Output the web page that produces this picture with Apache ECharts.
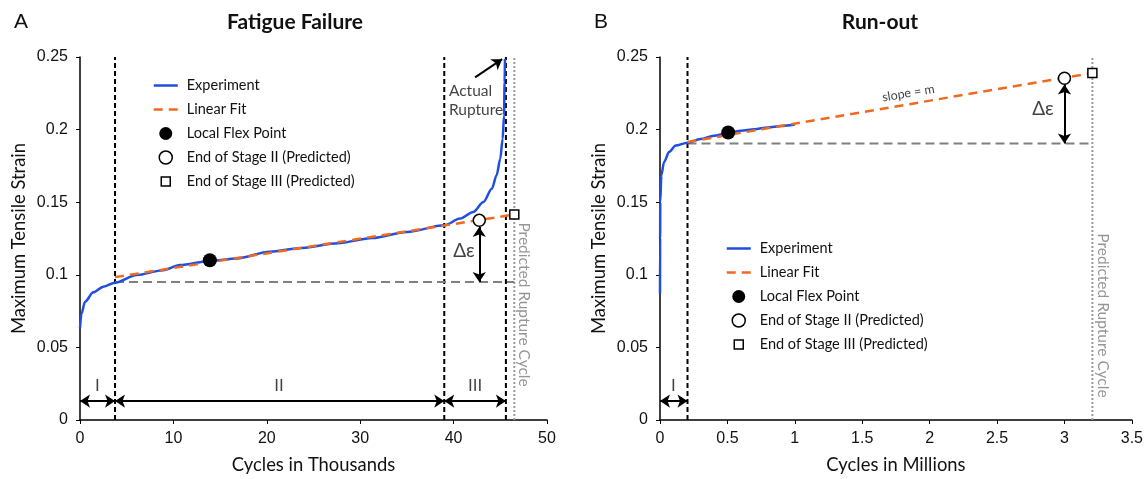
<!DOCTYPE html>
<html><head><meta charset="utf-8">
<script src="https://cdn.jsdelivr.net/npm/echarts@6/dist/echarts.min.js"></script>
<style>html,body{margin:0;padding:0;background:#fff}#c{width:1146px;height:479px}</style>
</head><body><div id="c"></div>
<script>
// ---------- Panel A : Fatigue Failure (x in thousands of cycles) ----------
const aExpX = [0, 0.15, 0.54, 1.43, 2.5, 3.75, 6.07, 8.9, 10.7, 13.9, 16.8, 20.3, 23.8, 27.6, 31.3, 35, 39, 40.7, 42.1, 43.2, 44.1, 44.6, 45.0, 45.25, 45.4, 45.46, 45.5];
const aExpY = [0.063, 0.073, 0.0815, 0.0879, 0.0918, 0.0946, 0.0998, 0.1032, 0.1067, 0.1095, 0.1113, 0.1159, 0.1185, 0.1218, 0.1253, 0.1295, 0.1341, 0.1387, 0.1433, 0.1502, 0.1593, 0.1685, 0.18, 0.1937, 0.2097, 0.2326, 0.2486];
const aFitX = [3.75, 46.5];
const aFitY = [0.0984, 0.1415];
const aFlex = [13.9, 0.110];
const aEndII = [42.75, 0.1375];
const aEndIII = [46.5, 0.1415];
const aStageBounds = [3.75, 39.0, 45.6];
const aRupture = 46.5;
const aBaseline = 0.095;
const aStageNames = ['I', 'II', 'III'];
const aStageLabelX = [1.85, 21.3, 42.3];
const aDeltaTop = 0.133;

// ---------- Panel B : Run-out (x in millions of cycles) ----------
const bExpX = [0, 0.001, 0.002, 0.01, 0.03, 0.067, 0.116, 0.204, 0.3, 0.4, 0.5, 0.6, 0.7, 0.8, 0.9, 1.0];
const bExpY = [0.087, 0.125, 0.15, 0.1685, 0.1777, 0.1845, 0.189, 0.191, 0.1935, 0.1958, 0.1975, 0.1992, 0.2003, 0.2015, 0.2025, 0.2035];
const bFitX = [0.204, 3.207];
const bFitY = [0.1915, 0.239];
const bFlex = [0.506, 0.198];
const bEndII = [3.0, 0.2354];
const bEndIII = [3.207, 0.239];
const bStageBounds = [0.204];
const bRupture = 3.207;
const bBaseline = 0.1905;
const bStageNames = ['I'];
const bStageLabelX = [0.1];
const bDeltaTop = 0.231;

// axes
const yMax = 0.25, yStep = 0.05;
const aXMax = 50, aXStep = 10;
const bXMax = 3.5, bXStep = 0.5;
const stageArrowY = 0.013, stageLabelY = 0.0235;

const C_BLUE = '#1f4ee0', C_ORANGE = '#ee6a1f', C_GRAY = '#808080', C_DOT = '#9a9a9a';
const SANS = 'Lato, "Open Sans", sans-serif';
const ARIAL = '"Liberation Sans", Arial, sans-serif';

const zip = (xs, ys) => xs.map((x, i) => [x, ys[i]]);

function axisX(gi, max, step, name) {
  return {
    type: 'value', gridIndex: gi, min: 0, max: max, interval: step,
    name: name, nameLocation: 'middle', nameGap: 36,
    nameTextStyle: { fontFamily: SANS, fontSize: 18.4, color: '#111' },
    axisLine: { onZero: false, lineStyle: { color: '#000', width: 1.5 } },
    axisTick: { show: true, length: 4, lineStyle: { color: '#000', width: 1 } },
    axisLabel: { fontFamily: ARIAL, fontSize: 16, color: '#111', margin: 11 },
    splitLine: { show: false }
  };
}
function axisY(gi) {
  return {
    type: 'value', gridIndex: gi, min: 0, max: yMax, interval: yStep,
    name: 'Maximum Tensile Strain', nameLocation: 'middle', nameGap: 52,
    nameTextStyle: { fontFamily: SANS, fontSize: 18.4, color: '#111' },
    axisLine: { show: true, lineStyle: { color: '#000', width: 1.5 } },
    axisTick: { show: true, length: 4, lineStyle: { color: '#000', width: 1 } },
    axisLabel: { fontFamily: ARIAL, fontSize: 16, color: '#111', margin: 12 },
    splitLine: { show: false }
  };
}

function panelSeries(gi, d) {
  const s = [];
  const base = { xAxisIndex: gi, yAxisIndex: gi, silent: true, animation: false };
  d.bounds.forEach(x => s.push(Object.assign({}, base, {
    type: 'line', symbol: 'none', data: [[x, 0], [x, yMax]],
    lineStyle: { color: '#000', width: 2, type: [5, 3] }
  })));
  s.push(Object.assign({}, base, {
    type: 'line', symbol: 'none', data: [[d.rupture, 0], [d.rupture, yMax]],
    lineStyle: { color: C_DOT, width: 2, type: [2, 2] },
    markLine: {
      silent: true, animation: false, symbol: ['arrow', 'arrow'], symbolSize: 10,
      label: { show: false },
      lineStyle: { color: '#000', width: 2, type: 'solid' },
      data: d.arrows
    }
  }));
  s.push(Object.assign({}, base, {
    type: 'line', symbol: 'none', data: [[d.bounds[0], d.baseline], [d.rupture, d.baseline]],
    lineStyle: { color: C_GRAY, width: 2, type: [9, 5] }
  }));
  s.push(Object.assign({}, base, {
    name: 'Experiment', type: 'line', symbol: 'none', smooth: 0.3, smoothMonotone: 'x',
    data: d.exp, lineStyle: { color: C_BLUE, width: 2.5 }, itemStyle: { color: C_BLUE }, z: 3
  }));
  s.push(Object.assign({}, base, {
    name: 'Linear Fit', type: 'line', symbol: 'none', data: d.fit,
    lineStyle: { color: C_ORANGE, width: 2.5, type: [9, 6] }, itemStyle: { color: C_ORANGE }, z: 4
  }));
  s.push(Object.assign({}, base, {
    name: 'Local Flex Point', type: 'scatter', symbol: 'circle', symbolSize: 14, data: [d.flex],
    itemStyle: { color: '#000', borderColor: '#000', borderWidth: 0, opacity: 1 }, z: 5
  }));
  s.push(Object.assign({}, base, {
    name: 'End of Stage II (Predicted)', type: 'scatter', symbol: 'circle', symbolSize: 12, data: [d.endII],
    itemStyle: { color: '#fff', borderColor: '#000', borderWidth: 1.5, opacity: 1 }, z: 5
  }));
  s.push(Object.assign({}, base, {
    name: 'End of Stage III (Predicted)', type: 'scatter', symbol: 'rect', symbolSize: 9, data: [d.endIII],
    itemStyle: { color: '#fff', borderColor: '#000', borderWidth: 1.5, opacity: 1 }, z: 5
  }));
  s.push(Object.assign({}, base, {
    type: 'scatter', symbol: 'circle', symbolSize: 1, itemStyle: { color: 'rgba(0,0,0,0)' }, z: 6,
    data: d.texts.map(t => ({
      value: [t.x, t.y],
      label: Object.assign({ show: true, position: 'inside', formatter: t.t, color: '#111',
        fontFamily: SANS, fontSize: 15, align: 'center', verticalAlign: 'middle' }, t.style || {})
    }))
  }));
  return s;
}

function stageArrows(bounds, y) {
  const edges = [0].concat(bounds);
  const out = [];
  for (let i = 0; i < edges.length - 1; i++) out.push([{ coord: [edges[i], y] }, { coord: [edges[i + 1], y] }]);
  return out;
}

const aTexts = aStageNames.map((n, i) => ({ t: n, x: aStageLabelX[i], y: stageLabelY, style: { fontFamily: ARIAL, fontSize: 17 } }))
  .concat([
    { t: 'Δε', x: 41.1, y: 0.1165, style: { fontFamily: SANS, fontSize: 19, align: 'center' } },
    { t: 'Actual\nRupture', x: 39.5, y: 0.2199, style: { align: 'left', lineHeight: 19, fontSize: 15.5 } },
    { t: 'Predicted Rupture Cycle', x: 47.5, y: 0.0795, style: { rotate: -90, color: '#7a7a7a', fontSize: 15.5 } }
  ]);
const bTexts = bStageNames.map((n, i) => ({ t: n, x: bStageLabelX[i], y: stageLabelY, style: { fontFamily: ARIAL, fontSize: 17 } }))
  .concat([
    { t: 'Δε', x: 2.84, y: 0.2143, style: { fontSize: 19 } },
    { t: 'slope = m', x: 1.842, y: 0.2251, style: { rotate: 9.6, fontSize: 12.5 } },
    { t: 'Predicted Rupture Cycle', x: 3.285, y: 0.072, style: { rotate: -90, color: '#7a7a7a', fontSize: 15.5 } }
  ]);

const aData = {
  exp: zip(aExpX, aExpY), fit: zip(aFitX, aFitY), flex: aFlex, endII: aEndII, endIII: aEndIII,
  bounds: aStageBounds, rupture: aRupture, baseline: aBaseline, texts: aTexts,
  arrows: stageArrows(aStageBounds, stageArrowY).concat([
    [{ coord: [aEndII[0], aDeltaTop] }, { coord: [aEndII[0], aBaseline] }],
    [{ coord: [42.3, 0.236], symbol: 'none' }, { coord: [45.2, 0.2485] }]
  ])
};
const bData = {
  exp: zip(bExpX, bExpY), fit: zip(bFitX, bFitY), flex: bFlex, endII: bEndII, endIII: bEndIII,
  bounds: bStageBounds, rupture: bRupture, baseline: bBaseline, texts: bTexts,
  arrows: stageArrows(bStageBounds, stageArrowY).concat([
    [{ coord: [bEndII[0], bDeltaTop] }, { coord: [bEndII[0], bBaseline] }]
  ])
};

// legend icons: the leading moves fix each icon's box to 24x13 so shapes keep their size
const legendItems = [
  { name: 'Experiment', icon: 'path://M0,0M24,13M0,5.25H24V7.75H0Z' },
  { name: 'Linear Fit', icon: 'path://M0,0M24,13M0,5.25H9V7.75H0ZM15,5.25H24V7.75H15Z' },
  { name: 'Local Flex Point' },
  { name: 'End of Stage II (Predicted)' },
  { name: 'End of Stage III (Predicted)', icon: 'path://M0,0M24,13M7.5,2H16.5V11H7.5Z' }
];
function legend(left, top) {
  return {
    left: left, top: top, orient: 'vertical', itemWidth: 24, itemHeight: 13, itemGap: 9,
    data: legendItems, selectedMode: false,
    textStyle: { fontFamily: SANS, fontSize: 14.5, color: '#111', padding: [0, 0, 0, 4] },
    itemStyle: { borderWidth: 'inherit' }
  };
}

const chart = echarts.init(document.getElementById('c'), null, { renderer: 'canvas' });
chart.setOption({
  animation: false,
  backgroundColor: '#fff',
  grid: [
    { left: 80, top: 57, width: 467, height: 365 },
    { left: 660, top: 57, width: 473, height: 365 }
  ],
  xAxis: [axisX(0, aXMax, aXStep, 'Cycles in Thousands'), axisX(1, bXMax, bXStep, 'Cycles in Millions')],
  yAxis: [axisY(0), axisY(1)],
  legend: [legend(148, 73), legend(721, 236)],
  graphic: [
    { type: 'text', left: 14, top: 12, style: { text: 'A', fontFamily: ARIAL, fontSize: 21, fill: '#111' } },
    { type: 'text', left: 594, top: 12, style: { text: 'B', fontFamily: ARIAL, fontSize: 21, fill: '#111' } },
    { type: 'text', x: 295, y: 22, style: { text: 'Fatigue Failure', fontFamily: SANS, fontWeight: 'bold', fontSize: 21, fill: '#111', align: 'center', verticalAlign: 'middle' } },
    { type: 'text', x: 880, y: 22, style: { text: 'Run-out', fontFamily: SANS, fontWeight: 'bold', fontSize: 21, fill: '#111', align: 'center', verticalAlign: 'middle' } }
  ],
  series: panelSeries(0, aData).concat(panelSeries(1, bData))
});
</script>
</body></html>
